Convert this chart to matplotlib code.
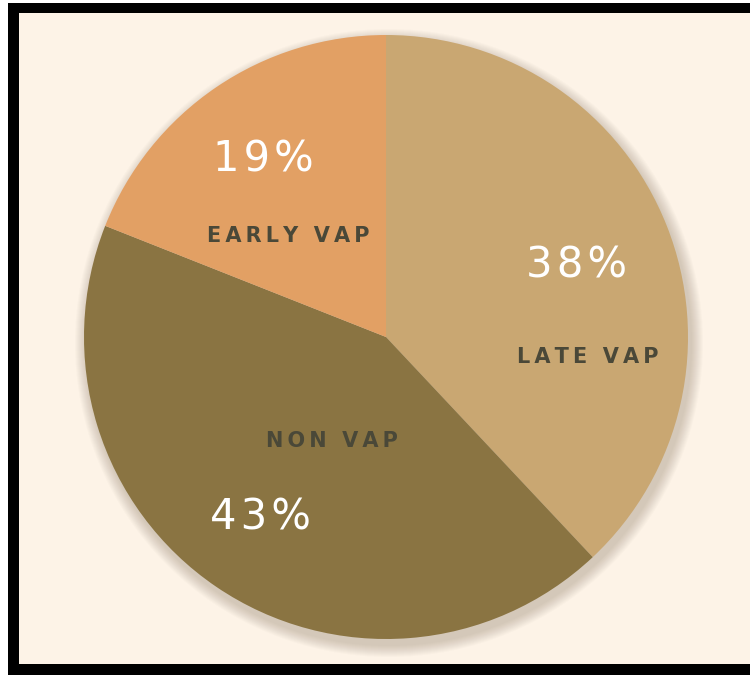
import matplotlib
matplotlib.use("Agg")
import matplotlib.pyplot as plt
from matplotlib.patches import Rectangle, Circle

categories = ["LATE VAP", "NON VAP", "EARLY VAP"]
values = [38, 43, 19]
pct_labels = ["38%", "43%", "19%"]
colors = ["#C9A772", "#8A7442", "#E2A064"]

W, H = 750, 675
fig = plt.figure(figsize=(7.5, 6.75), dpi=100)
fig.patch.set_facecolor("white")
ax = fig.add_axes([0, 0, 1, 1])
ax.set_xlim(0, W)
ax.set_ylim(0, H)
ax.set_aspect("equal")
ax.axis("off")

def py(y):
    return H - y

# frame
ax.add_patch(Rectangle((8, 0), W + 20, py(3), facecolor="black", edgecolor="none", zorder=0))
ax.add_patch(Rectangle((19, py(664)), W + 20, 664 - 13, facecolor="#FDF3E7", edgecolor="none", zorder=0.5))

cx, cy, r = 386, py(337), 302

# soft shadow
for i in range(12):
    ax.add_patch(Circle((cx + 3, cy - 6), r + 12 - i, facecolor="#6b5a40",
                        edgecolor="none", alpha=0.025, zorder=1))

wedges, _ = ax.pie(values, colors=colors, startangle=90, counterclock=False,
                   center=(cx, cy), radius=r, frame=True,
                   wedgeprops=dict(linewidth=0, zorder=2))
ax.set_xlim(0, W)
ax.set_ylim(0, H)
ax.axis("off")

pct_pos = [(577, 265), (260, 518), (263, 160)]
lab_pos = [(588, 357), (332, 441), (288, 236)]
def spaced(s, sep):
    return sep.join(s)
for i in range(3):
    ax.text(pct_pos[i][0], py(pct_pos[i][1]), spaced(pct_labels[i], "\u200a"), color="white",
            fontsize=30, ha="center", va="center", family="DejaVu Sans", zorder=5)
    ax.text(lab_pos[i][0], py(lab_pos[i][1]), spaced(categories[i], "\u2009"), color="#4a4838",
            fontsize=15, fontweight="bold", ha="center", va="center",
            family="DejaVu Sans", zorder=5)

fig.savefig("out.png", dpi=100, facecolor=fig.get_facecolor())
